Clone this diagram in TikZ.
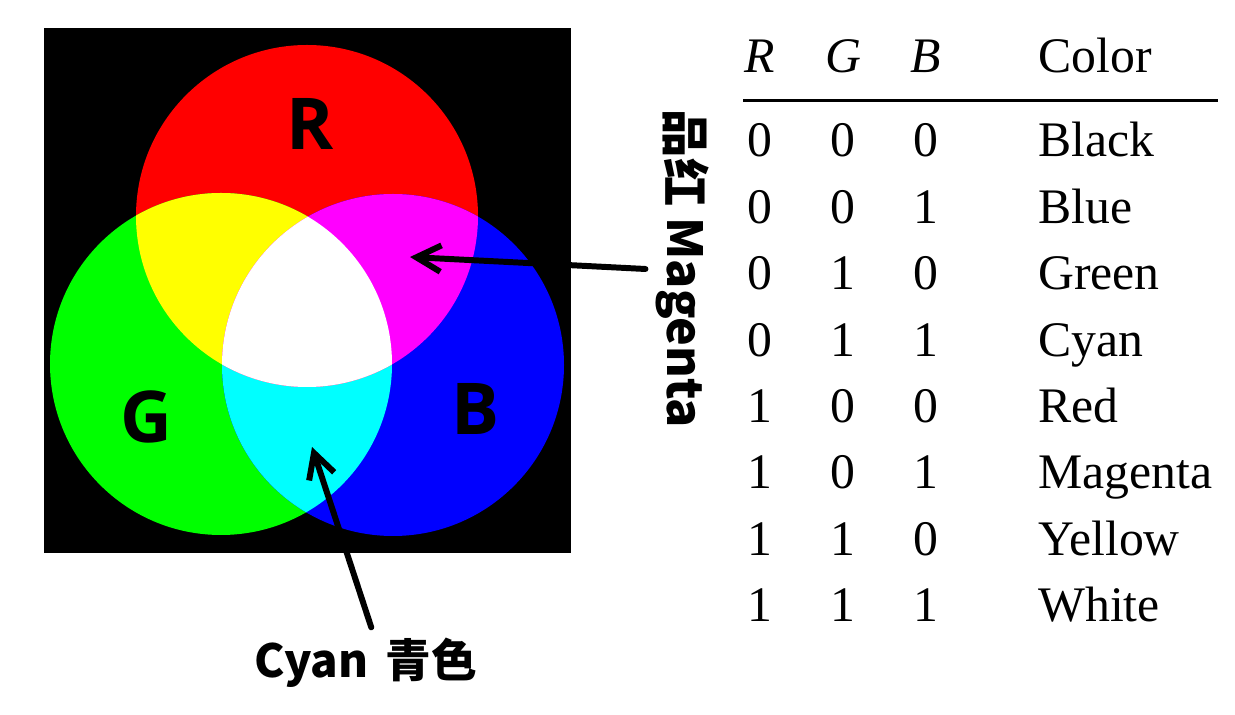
\documentclass[tikz,border=0pt]{standalone}
\usepackage{fontspec}
\setmainfont{Liberation Serif}
\newfontfamily\chanfont{Open Sans}
\newfontfamily\cjk{Noto Sans CJK SC}
\usetikzlibrary{arrows.meta}
\definecolor{redF}{rgb}{1,0,0}
\definecolor{greenF}{rgb}{0,1,0}
\definecolor{blueF}{rgb}{0,0,1}
\definecolor{yellowF}{rgb}{1,1,0}
\definecolor{magentaF}{rgb}{1,0,1}
\definecolor{cyanF}{rgb}{0,1,1}
\begin{document}
\begin{tikzpicture}[x=0.02cm, y=-0.02cm, line join=round, line cap=round,
	>={Straight Barb[length=14pt, width=15pt]},
	chan/.style={font=\chanfont\bfseries\fontsize{40.7pt}{44pt}\selectfont, anchor=base, inner sep=0pt},
	cell/.style={font=\fontsize{28.3pt}{30pt}\selectfont, anchor=base, inner sep=0pt},
	hcell/.style={cell, font=\fontsize{28.3pt}{30pt}\selectfont\itshape},
	colname/.style={cell, anchor=base west},
	tag/.style={inner sep=2pt},
	pointer/.style={->, line width=3.4pt}]
	\useasboundingbox (0,0) rectangle (1235,715);
	\fill[black] (44,28) rectangle (571,553);
	\coordinate (cR) at (307,216);
	\coordinate (cG) at (221,364);
	\coordinate (cB) at (393,365);
	\fill[redF] (cR) circle[radius=171];
	\fill[greenF] (cG) circle[radius=171];
	\fill[blueF] (cB) circle[radius=171];
	\begin{scope}
		\clip (cG) circle[radius=171];
		\fill[cyanF] (cB) circle[radius=171];
	\end{scope}
	\begin{scope}
		\clip (cR) circle[radius=171];
		\fill[yellowF] (cG) circle[radius=171];
		\fill[magentaF] (cB) circle[radius=171];
		\clip (cG) circle[radius=171];
		\fill[white] (cB) circle[radius=171];
	\end{scope}
	\node[chan] (R) at (310,150) {R};
	\node[chan] (G) at (146,443) {G};
	\node[chan] (B) at (476,435) {B};
	\node[tag, rotate=-90, font=\cjk\bfseries\fontsize{27.5pt}{30pt}\selectfont] (magenta) at (683,269) {品红 Magenta};
	\node[tag, font=\cjk\bfseries\fontsize{26pt}{28pt}\selectfont] (cyan) at (366,663) {Cyan\hspace{0.15em} 青色};
	\coordinate (mtip) at (410,257);
	\coordinate (ctip) at (312,447);
	\draw[pointer] ([xshift=-4pt]magenta.south) -- (mtip);
	\draw[pointer] ([xshift=3pt, yshift=4pt]cyan.north) -- (ctip);
	\node[hcell] (hR) at (760,73) {R};
	\node[hcell] (hG) at (843,73) {G};
	\node[hcell] (hB) at (926,73) {B};
	\node[colname] (hC) at (1038,73) {Color};
	\draw[line width=1.7pt, line cap=butt] (743,101) -- (1218,101);
	\foreach \r/\g/\b/\c [count=\i] in {0/0/0/Black,0/0/1/Blue,0/1/0/Green,0/1/1/Cyan,1/0/0/Red,1/0/1/Magenta,1/1/0/Yellow,1/1/1/White}{
		\node[cell] (r\i) at (760,{157+66.4*(\i-1)}) {\r};
		\node[cell] (g\i) at (843,{157+66.4*(\i-1)}) {\g};
		\node[cell] (b\i) at (926,{157+66.4*(\i-1)}) {\b};
		\node[colname] (c\i) at (1038,{157+66.4*(\i-1)}) {\c};
	}
\end{tikzpicture}
\end{document}
